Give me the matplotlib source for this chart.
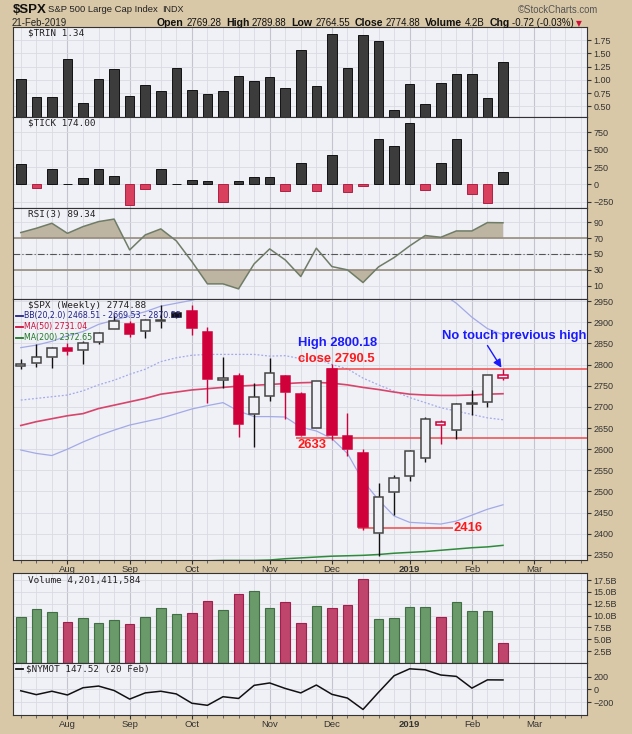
import matplotlib
matplotlib.use("Agg")
import numpy as np
import pandas as pd
import matplotlib.pyplot as plt
from matplotlib.patches import Rectangle
from matplotlib.ticker import FuncFormatter

plt.rcParams['font.family'] = ['Liberation Sans', 'DejaVu Sans']

# weekly $SPX candles, week of 16-Jul-2018 .. week of 18-Feb-2019
opens = [2797, 2804, 2819, 2840, 2835, 2854, 2885, 2897, 2880, 2902, 2922, 2926,
         2877, 2764, 2774, 2683, 2726, 2774, 2731, 2650, 2790.5, 2631, 2591, 2401,
         2499, 2536, 2580, 2658, 2645, 2706, 2712, 2769.28]
highs = [2814, 2848, 2841, 2850, 2856, 2876, 2917, 2904, 2908, 2941, 2925, 2940,
         2889, 2817, 2779, 2756, 2815, 2776, 2735, 2761, 2800.18, 2685, 2601, 2520,
         2538, 2598, 2675, 2670, 2709, 2739, 2776, 2789.88]
lows = [2789, 2795, 2792, 2822, 2802, 2848, 2885, 2864, 2862, 2886, 2910, 2870,
        2710, 2744, 2628, 2604, 2713, 2671, 2631, 2650, 2621.5, 2583, 2408, 2347,
        2444, 2525, 2570, 2613, 2625, 2680, 2700, 2764.55]
closes = [2801, 2819, 2840, 2833, 2850, 2875, 2902, 2872, 2905, 2905, 2913, 2886,
          2767, 2768, 2659, 2723, 2781, 2736, 2633, 2760, 2633.1, 2600, 2417, 2486,
          2532, 2596, 2671, 2665, 2707, 2708, 2776, 2774.88]

bb_upper = [2840, 2846, 2855, 2868, 2878, 2895, 2905, 2915, 2925, 2938, 2945, 2952,
            2962, 2968, 2975, 2978, 2980, 2982, 2985, 2985, 2985, 2990, 3000, 3010,
            3010, 3005, 2990, 2970, 2945, 2912, 2885, 2870.55]
bb_mid = [2716, 2720, 2724, 2728, 2738, 2752, 2763, 2777, 2789, 2807, 2816, 2822,
          2824, 2824, 2824, 2824, 2820, 2821, 2814, 2815, 2800, 2790, 2768, 2752,
          2737, 2722, 2710, 2698, 2690, 2682, 2674, 2669.53]
bb_lower = [2598, 2590, 2585, 2600, 2617, 2632, 2645, 2657, 2665, 2673, 2684, 2695,
            2703, 2710, 2690, 2677, 2677, 2676, 2652, 2643, 2625, 2590, 2525, 2480,
            2442, 2427, 2425, 2423, 2430, 2444, 2458, 2468.51]
ma50 = [2656, 2665, 2672, 2679, 2684, 2696, 2704, 2712, 2720, 2730, 2735, 2740,
        2743, 2746, 2749, 2751, 2753, 2755, 2757, 2758, 2756, 2752, 2746, 2741,
        2735, 2730, 2728, 2727, 2727, 2728, 2730, 2731.04]
ma200 = [2285, 2290, 2296, 2301, 2306, 2311, 2316, 2320, 2324, 2328, 2331, 2334,
         2336, 2337, 2337, 2337, 2338, 2341, 2343, 2345, 2347, 2348, 2349, 2351,
         2354, 2356, 2358, 2361, 2364, 2367, 2369, 2372.65]

trin = [1.01, 0.67, 0.67, 1.40, 0.57, 1.01, 1.20, 0.69, 0.90, 0.79, 1.23, 0.81,
        0.74, 0.79, 1.08, 0.98, 1.06, 0.85, 1.56, 0.88, 1.87, 1.22, 1.85, 1.73,
        0.43, 0.92, 0.55, 0.95, 1.11, 1.11, 0.65, 1.34]
tick = [290, -45, 225, 10, 90, 220, 115, -300, -70, 220, 10, 65,
        50, -255, 50, 105, 105, -95, 305, -95, 420, -110, -20, 660,
        550, 880, -80, 310, 660, -140, -270, 174]
rsi = [77, 82.4, 88.7, 76, 84.5, 90.8, 94, 55, 74, 81.6, 66.4, 40.3,
       12.1, 12.1, 5.8, 37.4, 56.3, 42.4, 21.4, 57.2, 34, 29.8, 13.8, 33.6,
       45.4, 60.1, 73.2, 71, 79, 79, 89.6, 89.34]
volume_b = [9.8, 11.36, 10.8, 8.66, 9.6, 8.45, 9.09, 8.24, 9.8, 11.7, 10.37, 10.58,
            13.1, 11.15, 14.6, 15.2, 11.57, 12.9, 8.45, 12.07, 11.57, 12.28, 17.8, 9.23,
            9.6, 11.86, 11.86, 9.8, 12.9, 11.0, 11.0, 4.20]
nymot = [-20, -80, -27, -85, 27, 53, -16, -149, -53, -27, -69, -213,
         -245, -112, -139, 64, 101, 16, -53, 69, -75, -133, -309, -43,
         213, 320, 304, 224, 203, 21, 149, 147.52]

levels = [2790.5, 2627, 2414]

TAN = '#d9c8a7'
PANEL = '#f0f0f7'
INK = '#111111'
CRED = '#d0003a'
W, H = 632, 734
LEFT, RIGHT = 13, 587
XMAX = 36.4

x = np.arange(len(closes))
weeks = pd.date_range('2018-07-16', periods=37, freq='W-MON')
month_pos = [i for i in range(1, len(weeks)) if weeks[i].month != weeks[i - 1].month]
month_lbl = [weeks[i].strftime('%Y') if weeks[i].month == 1 else weeks[i].strftime('%b')
             for i in month_pos]

prev = [closes[0]] + closes[:-1]
up = [c >= p for c, p in zip(closes, prev)]

fig = plt.figure(figsize=(W / 100, H / 100), dpi=100, facecolor=TAN)


def panel(top, bottom, labels=False):
    ax = fig.add_axes([LEFT / W, 1 - bottom / H, (RIGHT - LEFT) / W, (bottom - top) / H])
    ax.set_facecolor(PANEL)
    ax.set_xlim(-0.5, XMAX)
    ax.set_xticks(month_pos)
    ax.set_xticks(np.arange(len(weeks)), minor=True)
    ax.yaxis.tick_right()
    ax.tick_params(axis='y', which='both', labelsize=6.5, length=3, pad=1.5,
                   colors='#333333')
    if labels:
        ax.set_xticklabels(month_lbl)
        ax.tick_params(axis='x', which='major', labelsize=6.8, length=3, pad=0.3,
                       colors='#333333')
        ax.tick_params(axis='x', which='minor', length=2, colors='#555555')
        for t in ax.get_xticklabels():
            if t.get_text() == '2019':
                t.set_fontweight('bold')
    else:
        ax.tick_params(axis='x', which='both', length=0, labelbottom=False)
    ax.grid(axis='x', which='major', color='#c4c4ce', lw=0.8)
    ax.grid(axis='x', which='minor', color='#dadae3', lw=0.6)
    ax.grid(axis='y', which='major', color='#dadae3', lw=0.6)
    ax.set_axisbelow(True)
    for s in ax.spines.values():
        s.set_color('#333333')
        s.set_linewidth(0.8)
    return ax


def tag(ax, ypx_top, text, xpx=28, **kw):
    # panel label placed in pixels from the panel's top-left corner
    bb = ax.get_position()
    fig.text(xpx / W, bb.y1 - ypx_top / H, text, va='center', ha='left', **kw)


MONO = dict(family='DejaVu Sans Mono', fontsize=6.7, color='#222222')

# ---- $TRIN
ax_trin = panel(27, 117)
ax_trin.bar(x, trin, width=0.62, bottom=0, color='#3c3c3c', edgecolor='#111111', lw=0.7)
ax_trin.set_ylim(0.30, 2.0)
ax_trin.set_yticks([0.5, 0.75, 1.0, 1.25, 1.5, 1.75])
ax_trin.yaxis.set_major_formatter(FuncFormatter(lambda v, p: f'{v:.2f}'))
tag(ax_trin, 6, '$TRIN 1.34', **MONO)

# ---- $TICK
ax_tick = panel(117, 208)
tick_cols = ['#3c3c3c' if v >= 0 else '#d8405e' for v in tick]
tick_edge = ['#111111' if v >= 0 else '#b02044' for v in tick]
ax_tick.bar(x, tick, width=0.62, color=tick_cols, edgecolor=tick_edge, lw=0.7)
ax_tick.set_ylim(-340, 970)
ax_tick.set_yticks([-250, 0, 250, 500, 750])
tag(ax_tick, 6, '$TICK 174.00', **MONO)

# ---- RSI(3)
ax_rsi = panel(208, 299)
rsi_a = np.array(rsi)
ax_rsi.fill_between(x, rsi_a, 70, where=rsi_a > 70, interpolate=True,
                    color='#bdb5a2', lw=0)
ax_rsi.fill_between(x, rsi_a, 30, where=rsi_a < 30, interpolate=True,
                    color='#bdb5a2', lw=0)
ax_rsi.axhline(70, color='#978c7e', lw=1.2)
ax_rsi.axhline(30, color='#978c7e', lw=1.2)
ax_rsi.axhline(50, color='#555555', lw=0.8, ls=(0, (6, 2, 1, 2)))
ax_rsi.plot(x, rsi, color='#6f7c66', lw=1.1)
ax_rsi.set_ylim(-7, 108)
ax_rsi.set_yticks([10, 30, 50, 70, 90])
tag(ax_rsi, 6, 'RSI(3) 89.34', **MONO)

# ---- price
ax = panel(299, 560, labels=True)
ax.set_ylim(2338, 2955)
ax.set_yticks(np.arange(2350, 2951, 50))
ax.plot(x, bb_upper, color='#a3aae6', lw=0.9, zorder=2)
ax.plot(x, bb_lower, color='#a3aae6', lw=0.9, zorder=2)
ax.plot(x, bb_mid, color='#a3aae6', lw=0.9, ls=(0, (1.5, 1.5)), zorder=2)
ax.plot(x, ma50, color='#d8446a', lw=1.2, zorder=2)
ax.plot(x, ma200, color='#2e8b3a', lw=1.1, zorder=2)

for i in range(len(closes)):
    o, h, l, c = opens[i], highs[i], lows[i], closes[i]
    col = INK if up[i] else CRED
    lo_b, hi_b = min(o, c), max(o, c)
    ax.vlines(i, l, lo_b, color=col, lw=1.0, zorder=4)
    ax.vlines(i, hi_b, h, color=col, lw=1.0, zorder=4)
    face = col if c < o else PANEL
    ax.add_patch(Rectangle((i - 0.3, lo_b), 0.6, hi_b - lo_b, facecolor=face,
                           edgecolor=col if c < o else ('#444444' if up[i] else CRED),
                           lw=1.1, zorder=5))

LRED = '#f04a4a'
ax.hlines(levels[0], 19.7, XMAX, color=LRED, lw=1.1, zorder=3)
ax.hlines(levels[1], 17.7, XMAX, color=LRED, lw=1.1, zorder=3)
ax.hlines(levels[2], 21.7, 27.8, color=LRED, lw=1.1, zorder=3)

ANN = dict(fontsize=9.4, fontweight='bold', zorder=6)
ax.text(17.8, 2851, 'High 2800.18', color='#1a1aff', ha='left', va='center', **ANN)
ax.text(17.8, 2813, 'close 2790.5', color='#ff1a1a', ha='left', va='center', **ANN)
ax.text(17.8, 2610, '2633', color='#ff1a1a', ha='left', va='center', **ANN)
ax.text(28.75, 2414, '2416', color='#ff1a1a', ha='center', va='center', **ANN)
ax.text(31.75, 2867, 'No touch previous high', color='#1a1aff', ha='center',
        va='center', **ANN)
ax.annotate('', xy=(30.9, levels[0] + 2), xytext=(30.0, 2845),
            arrowprops=dict(arrowstyle='-|>', color='#1a1aff', lw=1.0,
                            mutation_scale=12, shrinkA=0, shrinkB=0), zorder=6)

tag(ax, 6, '$SPX (Weekly) 2774.88', **MONO)
LEG = dict(family='DejaVu Sans', fontsize=5.7)
for k, (txt, col) in enumerate([('BB(20,2.0) 2468.51 - 2669.53 - 2870.55', '#22228a'),
                                ('MA(50) 2731.04', '#d0103a'),
                                ('MA(200) 2372.65', '#1f7a25')]):
    bb = ax.get_position()
    fy = bb.y1 - (16.5 + 11 * k) / H
    fig.add_artist(plt.Line2D([16 / W, 23 / W], [fy, fy], color=col, lw=1.3))
    fig.text(24.5 / W, fy, txt, color=col, va='center', ha='left', **LEG)

# ---- volume
ax_vol = panel(573, 663)
vcol = ['#6a9a6a' if u else '#bf456c' for u in up]
vedge = ['#3f6f42' if u else '#a01f4c' for u in up]
ax_vol.bar(x, volume_b, width=0.62, color=vcol, edgecolor=vedge, lw=0.8)
ax_vol.set_ylim(0, 19)
ax_vol.set_yticks(np.arange(2.5, 17.6, 2.5))
ax_vol.yaxis.set_major_formatter(FuncFormatter(lambda v, p: f'{v:.1f}B'))
tag(ax_vol, 8, 'Volume 4,201,411,584', **MONO)

# ---- $NYMOT
ax_ny = panel(663, 715, labels=True)
ax_ny.plot(x, nymot, color='#111111', lw=1.1)
ax_ny.set_ylim(-395, 410)
ax_ny.set_yticks([-200, 0, 200])
bbn = ax_ny.get_position()
fyn = bbn.y1 - 6 / H
fig.add_artist(plt.Line2D([16 / W, 23 / W], [fyn, fyn], color='#111111', lw=1.3))
fig.text(26 / W, fyn, '$NYMOT 147.52 (20 Feb)', va='center', ha='left', **MONO)

# ---- header
fig.text(13 / W, 1 - 10 / H, '$SPX', fontsize=9.5, fontweight='bold', va='center',
         color='#111111')
fig.text(48 / W, 1 - 10 / H, 'S&P 500 Large Cap Index', fontsize=6.8, va='center',
         color='#222222')
fig.text(162 / W, 1 - 10 / H, 'INDX', fontsize=6.5, va='center', color='#222222')
fig.text(598 / W, 1 - 10 / H, '\u00a9StockCharts.com', fontsize=6.9, va='center',
         ha='right', color='#555555')
fig.text(12 / W, 1 - 23.5 / H, '21-Feb-2019', fontsize=6.9, va='center', color='#222222')

parts = [('Open', True), ('2769.28', False), ('High', True), ('2789.88', False),
         ('Low', True), ('2764.55', False), ('Close', True), ('2774.88', False),
         ('Volume', True), ('4.2B', False), ('Chg', True), ('-0.72 (-0.03%)', False)]
renderer = fig.canvas.get_renderer()
xp = 157
for s, bold in parts:
    t = fig.text(xp / W, 1 - 23.5 / H, s, fontsize=7.6 if bold else 6.9,
                 fontweight='bold' if bold else 'normal', va='center', ha='left',
                 color='#111111')
    xp = t.get_window_extent(renderer).x1 + (2.5 if bold else 5)
fig.text((xp - 3) / W, 1 - 23.5 / H, '\u25bc', fontsize=5.5, color='#d0103a',
         va='center', ha='left', family=['DejaVu Sans'])

fig.savefig('out.png', dpi=100, facecolor=TAN)
